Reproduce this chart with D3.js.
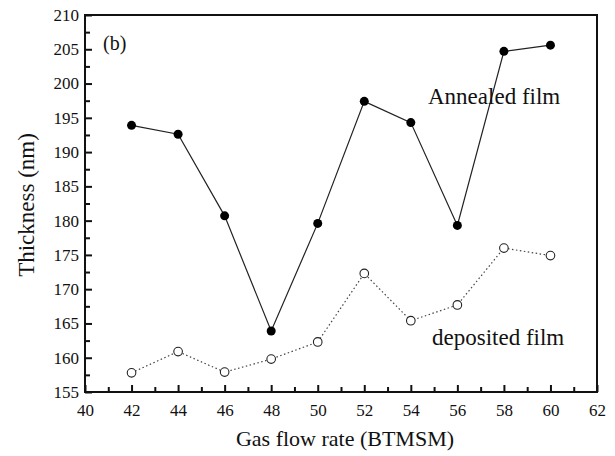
<!DOCTYPE html>
<html>
<head>
<meta charset="utf-8">
<script src="https://cdn.jsdelivr.net/npm/d3@7"></script>
<style>
  body { margin: 0; background: #fff; }
  svg text { font-family: "Liberation Serif", "Times New Roman", Tinos, "Nimbus Roman", "DejaVu Serif", serif; fill: #111; }
</style>
</head>
<body>
<div id="chart"></div>
<script>
// gas flow rate values (x)
let flowRate = [42, 44, 46, 48, 50, 52, 54, 56, 58, 60];
// thickness after annealing (nm)
let annealed = [193.9, 192.6, 180.7, 163.9, 179.6, 197.4, 194.3, 179.3, 204.7, 205.6];
// thickness as deposited (nm)
let deposited = [157.8, 160.9, 157.9, 159.8, 162.3, 172.3, 165.4, 167.7, 176.0, 174.9];

let xTicks = [40, 42, 44, 46, 48, 50, 52, 54, 56, 58, 60, 62];
let yTicks = [155, 160, 165, 170, 175, 180, 185, 190, 195, 200, 205, 210];

let width = 615, height = 456;
let margin = {left: 85, right: 18, top: 15, bottom: 64};
let serif = '"Liberation Serif", "Times New Roman", Tinos, "Nimbus Roman", "DejaVu Serif", serif';

let svg = d3.select("#chart").append("svg")
    .attr("width", width)
    .attr("height", height)
    .attr("font-family", serif);

let x = d3.scaleLinear().domain([40, 62]).range([margin.left, width - margin.right]);
let y = d3.scaleLinear().domain([155, 210]).range([height - margin.bottom, margin.top]);

// frame
svg.append("rect")
    .attr("x", x(40)).attr("y", y(210))
    .attr("width", x(62) - x(40)).attr("height", y(155) - y(210))
    .attr("fill", "none").attr("stroke", "#111").attr("stroke-width", 2);

// x axis, ticks pointing inwards
let xAxis = d3.axisBottom(x).tickValues(xTicks).tickSizeInner(-7).tickSizeOuter(0).tickPadding(12);
let gx = svg.append("g").attr("transform", "translate(0," + y(155) + ")").call(xAxis)
    .attr("font-family", serif).attr("font-size", 17);
gx.select(".domain").remove();
gx.selectAll("line").attr("stroke", "#111").attr("stroke-width", 2);
gx.selectAll("text").attr("fill", "#111");

let xMinor = d3.axisBottom(x).tickValues(d3.range(41, 62, 2)).tickSizeInner(-5).tickSizeOuter(0).tickFormat("");
let gxm = svg.append("g").attr("transform", "translate(0," + y(155) + ")").call(xMinor);
gxm.select(".domain").remove();
gxm.selectAll("line").attr("stroke", "#111").attr("stroke-width", 2);

// y axis
let yAxis = d3.axisLeft(y).tickValues(yTicks).tickSizeInner(-7).tickSizeOuter(0).tickPadding(6);
let gy = svg.append("g").attr("transform", "translate(" + x(40) + ",0)").call(yAxis)
    .attr("font-family", serif).attr("font-size", 17);
gy.select(".domain").remove();
gy.selectAll("line").attr("stroke", "#111").attr("stroke-width", 2);
gy.selectAll("text").attr("fill", "#111");

let yMinor = d3.axisLeft(y).tickValues(d3.range(157.5, 210, 5)).tickSizeInner(-5).tickSizeOuter(0).tickFormat("");
let gym = svg.append("g").attr("transform", "translate(" + x(40) + ",0)").call(yMinor);
gym.select(".domain").remove();
gym.selectAll("line").attr("stroke", "#111").attr("stroke-width", 2);

let line = d3.line()
    .x(function (d) { return x(d[0]); })
    .y(function (d) { return y(d[1]); });

let annData = flowRate.map(function (f, i) { return [f, annealed[i]]; });
let depData = flowRate.map(function (f, i) { return [f, deposited[i]]; });

svg.append("path").datum(annData)
    .attr("d", line).attr("fill", "none")
    .attr("stroke", "#222").attr("stroke-width", 1.2);

svg.append("path").datum(depData)
    .attr("d", line).attr("fill", "none")
    .attr("stroke", "#444").attr("stroke-width", 1.2)
    .attr("stroke-dasharray", "1.5,2.5");

svg.selectAll(".ann").data(annData).enter().append("circle")
    .attr("class", "ann")
    .attr("cx", function (d) { return x(d[0]); })
    .attr("cy", function (d) { return y(d[1]); })
    .attr("r", 4.5).attr("fill", "#000");

svg.selectAll(".dep").data(depData).enter().append("circle")
    .attr("class", "dep")
    .attr("cx", function (d) { return x(d[0]); })
    .attr("cy", function (d) { return y(d[1]); })
    .attr("r", 4.3).attr("fill", "#fff")
    .attr("stroke", "#222").attr("stroke-width", 1.1);

// labels
svg.append("text").attr("x", 103).attr("y", 50).style("font-size", "20px").text("(b)");
svg.append("text").attr("x", 428).attr("y", 104).style("font-size", "23px").text("Annealed film");
svg.append("text").attr("x", 432).attr("y", 345).style("font-size", "23px").text("deposited film");

svg.append("text")
    .attr("x", (x(40) + x(62)) / 2 + 4).attr("y", 446)
    .attr("text-anchor", "middle").style("font-size", "22px")
    .text("Gas flow rate (BTMSM)");

svg.append("text")
    .attr("transform", "translate(34,205) rotate(-90)")
    .attr("text-anchor", "middle").style("font-size", "23px")
    .text("Thickness (nm)");
</script>
</body>
</html>
